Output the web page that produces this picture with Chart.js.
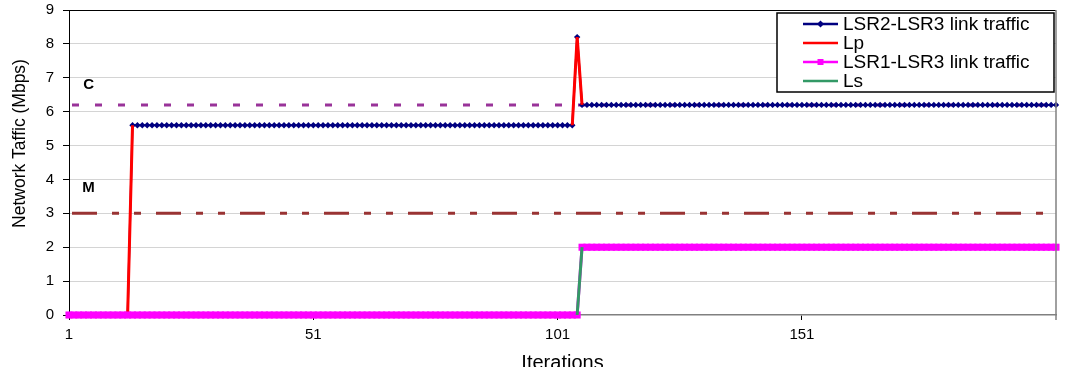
<!DOCTYPE html>
<html>
<head>
<meta charset="utf-8">
<script src="https://cdn.jsdelivr.net/npm/chart.js@4.4.1/dist/chart.umd.min.js"></script>
<style>
  html, body { margin: 0; padding: 0; background: #fff; overflow: hidden; }
  #wrap { width: 1065px; height: 367px; position: relative; }
</style>
</head>
<body>
<div id="wrap"><canvas id="trafficChart"></canvas></div>
<script>
// x categories: iterations 1..203
const iterations = Array.from({ length: 203 }, (_, i) => i + 1);
const xTickLabels = [1, 51, 101, 151];
const yTicks = [0, 1, 2, 3, 4, 5, 6, 7, 8, 9];

// runs: [value, number of iterations]
const lsr2Lsr3Runs = [[0, 13], [5.6, 91], [8.2, 1], [6.2, 98]];
const lsr1Lsr3Runs = [[0, 105], [2, 98]];
// Lp / Ls only show up at the switch-overs: [iteration, value]
const lpPoints = [[13, 0], [14, 5.6], [104, 5.6], [105, 8.2], [106, 6.2]];
const lsPoints = [[105, 0], [106, 2]];

// levels drawn as dashed lines
const levelC = 6.2;
const levelM = 3;

const expandRuns = runs => runs.flatMap(([v, n]) => Array(n).fill(v));
const sparseSeries = pts => {
    const out = iterations.map(() => null);
    pts.forEach(([it, v]) => { out[it - 1] = v; });
    return out;
};

const FONT = '"Liberation Sans", Arial, sans-serif';

const datasets = [
    {
        label: 'LSR2-LSR3 link traffic',
        data: expandRuns(lsr2Lsr3Runs),
        borderColor: '#000080',
        backgroundColor: '#000080',
        borderWidth: 2,
        pointStyle: 'rectRot',
        pointRadius: 3.2,
        pointBorderWidth: 0,
        order: 4,
        clip: false
    },
    {
        label: 'Lp',
        data: sparseSeries(lpPoints),
        borderColor: '#ff0000',
        borderWidth: 3,
        pointRadius: 0,
        spanGaps: false,
        order: 3,
        clip: false
    },
    {
        label: 'LSR1-LSR3 link traffic',
        data: expandRuns(lsr1Lsr3Runs),
        borderColor: '#ff00ff',
        backgroundColor: '#ff00ff',
        borderWidth: 3,
        pointStyle: 'rect',
        pointRadius: 5,
        pointBorderWidth: 0,
        order: 2,
        clip: false
    },
    {
        label: 'Ls',
        data: sparseSeries(lsPoints),
        borderColor: '#339966',
        borderWidth: 3,
        pointRadius: 0,
        spanGaps: false,
        order: 1,
        clip: false
    }
];

// dashed C / M levels plus their letters
const levelLines = {
    id: 'levelLines',
    beforeDatasetsDraw(chart) {
        const { ctx, chartArea: a, scales: { x, y } } = chart;
        ctx.save();
        ctx.lineWidth = 3;
        ctx.lineDashOffset = -3;

        ctx.strokeStyle = '#993399';
        ctx.setLineDash([7, 16]);
        ctx.beginPath();
        ctx.moveTo(a.left, y.getPixelForValue(levelC));
        ctx.lineTo(a.right, y.getPixelForValue(levelC));
        ctx.stroke();

        ctx.strokeStyle = '#993333';
        ctx.setLineDash([25, 15, 7, 15, 7, 15]);
        ctx.beginPath();
        ctx.moveTo(a.left, y.getPixelForValue(levelM));
        ctx.lineTo(a.right, y.getPixelForValue(levelM));
        ctx.stroke();

        ctx.setLineDash([]);
        ctx.fillStyle = '#000';
        ctx.font = 'bold 15px ' + FONT;
        ctx.textAlign = 'center';
        ctx.textBaseline = 'middle';
        ctx.fillText('C', x.getPixelForValue(4), y.getPixelForValue(levelC + 0.6));
        ctx.fillText('M', x.getPixelForValue(4), y.getPixelForValue(levelM + 0.75));
        ctx.restore();
    }
};

// right frame, axis titles and an Excel-style legend box
const frameAndLegend = {
    id: 'frameAndLegend',
    afterDraw(chart) {
        const { ctx, chartArea: a } = chart;
        ctx.save();
        ctx.strokeStyle = '#808080';
        ctx.lineWidth = 1.5;
        ctx.beginPath();
        ctx.moveTo(a.right, a.top);
        ctx.lineTo(a.right, a.bottom + 5);
        ctx.stroke();

        ctx.fillStyle = '#000';
        ctx.textAlign = 'center';
        ctx.font = '20px ' + FONT;
        ctx.textBaseline = 'alphabetic';
        ctx.fillText('Iterations', (a.left + a.right) / 2, 369);

        ctx.save();
        ctx.translate(20, 143.5);
        ctx.rotate(-Math.PI / 2);
        ctx.font = '17.5px ' + FONT;
        ctx.textBaseline = 'middle';
        ctx.fillText('Network Taffic (Mbps)', 0, 0);
        ctx.restore();

        // legend
        const bx = 777, by = a.top + 3, bw = a.right - 2 - bx, bh = 79;
        ctx.fillStyle = '#fff';
        ctx.fillRect(bx, by, bw, bh);
        ctx.strokeStyle = '#000';
        ctx.lineWidth = 1.5;
        ctx.strokeRect(bx, by, bw, bh);

        ctx.font = '19px ' + FONT;
        ctx.textAlign = 'left';
        ctx.textBaseline = 'middle';
        chart.data.datasets.forEach((ds, i) => {
            const cy = by + 11 + i * 19;
            ctx.strokeStyle = ds.borderColor;
            ctx.lineWidth = 2.5;
            ctx.beginPath();
            ctx.moveTo(803, cy);
            ctx.lineTo(838, cy);
            ctx.stroke();
            if (ds.pointStyle === 'rectRot') {
                ctx.fillStyle = ds.borderColor;
                ctx.beginPath();
                ctx.moveTo(820.5, cy - 3.5);
                ctx.lineTo(824, cy);
                ctx.lineTo(820.5, cy + 3.5);
                ctx.lineTo(817, cy);
                ctx.closePath();
                ctx.fill();
            } else if (ds.pointStyle === 'rect') {
                ctx.fillStyle = ds.borderColor;
                ctx.fillRect(817.5, cy - 3, 6, 6);
            }
            ctx.fillStyle = '#000';
            ctx.fillText(ds.label, 843, cy + 1);
        });
        ctx.restore();
    }
};

new Chart(document.getElementById('trafficChart'), {
    type: 'line',
    data: { labels: iterations, datasets: datasets },
    options: {
        responsive: true,
        maintainAspectRatio: false,
        animation: false,
        layout: { padding: { top: 10, right: 9, left: 0, bottom: 0 } },
        plugins: {
            legend: { display: false },
            tooltip: { enabled: false }
        },
        scales: {
            x: {
                type: 'category',
                offset: false,
                afterFit: s => { s.height = 52; s.paddingLeft = 0; s.paddingRight = 0; },
                border: { display: true, color: '#808080', width: 1.5 },
                grid: {
                    drawOnChartArea: false,
                    tickLength: 5,
                    tickColor: c => xTickLabels.includes(iterations[c.index]) ? '#000' : 'rgba(0,0,0,0)'
                },
                ticks: {
                    autoSkip: false,
                    maxRotation: 0,
                    padding: 6,
                    color: '#000',
                    font: { family: FONT, size: 15 },
                    callback: (val, idx) => xTickLabels.includes(iterations[idx]) ? String(iterations[idx]) : ''
                }
            },
            y: {
                min: 0,
                max: 9,
                afterFit: s => { s.width = 69; s.paddingTop = 0; s.paddingBottom = 0; },
                afterBuildTicks: s => { s.ticks = yTicks.map(v => ({ value: v })); },
                border: { display: true, color: '#000', width: 1 },
                grid: {
                    tickLength: 6,
                    tickColor: '#000',
                    color: c => c.tick.value === 9 ? '#000' : (c.tick.value === 0 ? 'rgba(0,0,0,0)' : '#d4d4d4')
                },
                ticks: {
                    padding: 9,
                    color: '#000',
                    font: { family: FONT, size: 15 }
                }
            }
        }
    },
    plugins: [levelLines, frameAndLegend]
});
</script>
</body>
</html>
